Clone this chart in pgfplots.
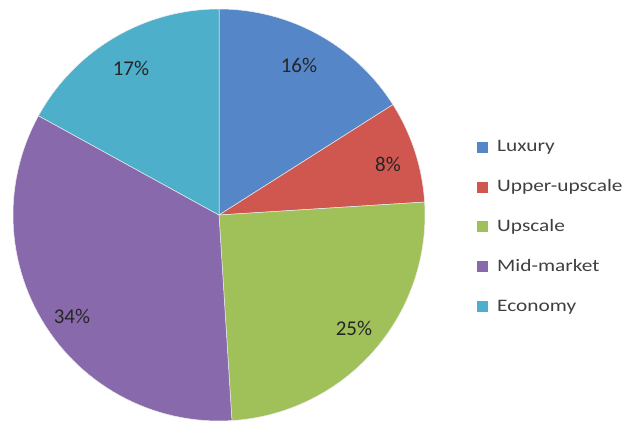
\documentclass[border=0pt]{standalone}
\usepackage{pgfplots}
\usepackage{pgfplotstable}
\pgfplotsset{compat=1.18}
\usepackage{fontspec}
\setmainfont{Carlito}
\newfontfamily\legfont{Carlito}[FakeStretch=1.22]
\newfontfamily\labfont{Carlito}

\definecolor{cLux}{HTML}{5587C8}
\definecolor{cUpp}{HTML}{D0574F}
\definecolor{cUps}{HTML}{A0C05A}
\definecolor{cMid}{HTML}{886AAC}
\definecolor{cEco}{HTML}{4EAFCB}

% shares (percent): Luxury 16, Upper-upscale 8, Upscale 25, Mid-market 34, Economy 17
% label positions in picture units (y up)
\pgfplotstableread{
x   y   lab
299 356 16
388 257 8
354 93  25
72  105 34
131 353 17
}\labels

\begin{document}
\begin{tikzpicture}
\begin{axis}[
    width=630pt, height=421pt, scale only axis,
    xmin=0, xmax=630, ymin=0, ymax=421,
    hide axis, clip=false,
    legend cell align=left,
    legend image code/.code={\fill[#1,draw=none] (0pt,-5.5pt) rectangle (11pt,5.5pt);},
    legend style={
        at={(axis cs:477,194)}, anchor=west,
        draw=none, fill=none, inner sep=0pt,
        row sep=24.5pt, column sep=9pt,
        font=\legfont\fontsize{17.5}{20}\selectfont,
        text=black!75,
        nodes={inner sep=0pt, text height=12pt, text depth=3.5pt}
    },
    slice/.style={draw=white!85!gray, line width=0.5pt, samples=61, variable=\t},
]
% angle runs clockwise from 12 o'clock, 3.6 degrees per percent
\addplot[slice, fill=cLux, domain=0:16]
    ({219+206*sin(3.6*\t)}, {206+206*cos(3.6*\t)}) -- (axis cs:219,206) -- cycle;
\addlegendentry{Luxury}
\addplot[slice, fill=cUpp, domain=16:24]
    ({219+206*sin(3.6*\t)}, {206+206*cos(3.6*\t)}) -- (axis cs:219,206) -- cycle;
\addlegendentry{Upper-upscale}
\addplot[slice, fill=cUps, domain=24:49]
    ({219+206*sin(3.6*\t)}, {206+206*cos(3.6*\t)}) -- (axis cs:219,206) -- cycle;
\addlegendentry{Upscale}
\addplot[slice, fill=cMid, domain=49:83]
    ({219+206*sin(3.6*\t)}, {206+206*cos(3.6*\t)}) -- (axis cs:219,206) -- cycle;
\addlegendentry{Mid-market}
\addplot[slice, fill=cEco, domain=83:100]
    ({219+206*sin(3.6*\t)}, {206+206*cos(3.6*\t)}) -- (axis cs:219,206) -- cycle;
\addlegendentry{Economy}

\addplot[draw=none, mark=none, forget plot,
    nodes near coords={\labfont\upshape\pgfplotspointmeta\%},
    point meta=explicit symbolic,
    every node near coord/.append style={anchor=center, inner sep=0pt,
        font=\labfont\fontsize{21}{24}\selectfont, text=black!85}]
    table[x=x, y=y, meta=lab] {\labels};
\end{axis}
\pgfresetboundingbox
\path (current axis.south west) rectangle (current axis.north east);
\end{tikzpicture}
\end{document}
